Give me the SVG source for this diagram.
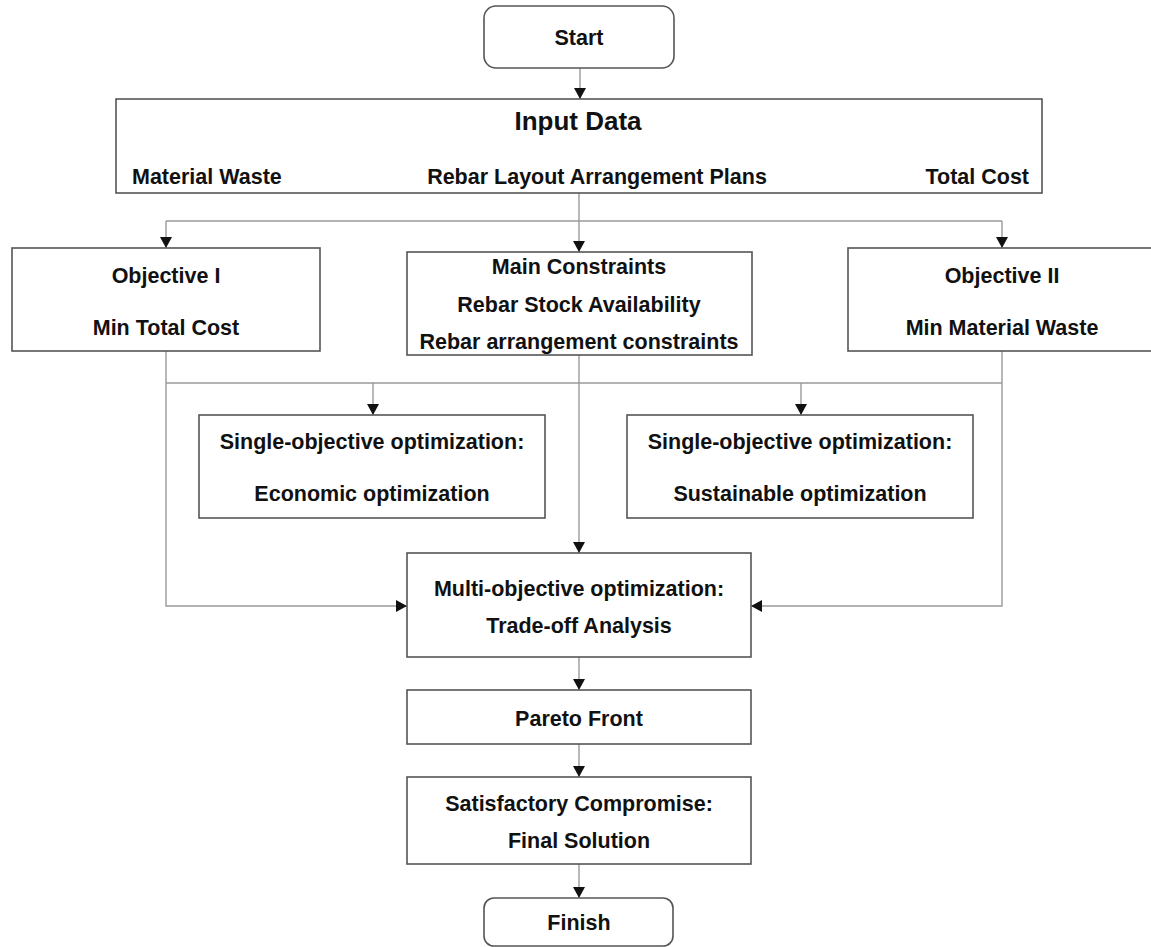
<svg xmlns="http://www.w3.org/2000/svg" width="1151" height="947" viewBox="0 0 1151 947">
  <style>
    .box { fill: #ffffff; stroke: #555555; stroke-width: 1.6; }
    .conn { fill: none; stroke: #9a9a9a; stroke-width: 1.4; }
    .t { font-family: "Liberation Sans", Arial, sans-serif; font-weight: bold; font-size: 21.5px; fill: #111111; text-anchor: middle; }
    .big { font-size: 26px; }
  </style>
  <defs>
    <marker id="arrow" markerUnits="userSpaceOnUse" markerWidth="13" markerHeight="13" refX="11" refY="6" orient="auto">
      <path d="M0,0 L11,6 L0,12 Z" fill="#111111"/>
    </marker>
  </defs>

  <rect width="1151" height="947" fill="#ffffff"/>

  <!-- connectors -->
  <g id="connectors">
    <path class="conn" d="M580,68 V99" marker-end="url(#arrow)"/>
    <path class="conn" d="M579,193 V252" marker-end="url(#arrow)"/>
    <path class="conn" d="M166,221 H1002"/>
    <path class="conn" d="M166,221 V248" marker-end="url(#arrow)"/>
    <path class="conn" d="M1002,221 V248" marker-end="url(#arrow)"/>
    <path class="conn" d="M579,355 V553" marker-end="url(#arrow)"/>
    <path class="conn" d="M166,383 H1002"/>
    <path class="conn" d="M373,383 V415" marker-end="url(#arrow)"/>
    <path class="conn" d="M801,383 V415" marker-end="url(#arrow)"/>
    <path class="conn" d="M166,351 V606 H407" marker-end="url(#arrow)"/>
    <path class="conn" d="M1002,351 V606 H751" marker-end="url(#arrow)"/>
    <path class="conn" d="M579,657 V690" marker-end="url(#arrow)"/>
    <path class="conn" d="M579,744 V777" marker-end="url(#arrow)"/>
    <path class="conn" d="M579,864 V898" marker-end="url(#arrow)"/>
  </g>

  <g id="start">
    <rect class="box" x="484" y="6" width="190" height="62" rx="12"/>
    <text class="t" x="579" y="45">Start</text>
  </g>

  <g id="input-data">
    <rect class="box" x="116" y="99" width="926" height="94"/>
    <text class="t big" x="578" y="130">Input Data</text>
    <text class="t" x="132" y="184" style="text-anchor:start">Material Waste</text>
    <text class="t" x="597" y="184">Rebar Layout Arrangement Plans</text>
    <text class="t" x="1029" y="184" style="text-anchor:end">Total Cost</text>
  </g>

  <g id="objective-1">
    <rect class="box" x="12" y="248" width="308" height="103"/>
    <text class="t" x="166" y="283">Objective I</text>
    <text class="t" x="166" y="335">Min Total Cost</text>
  </g>

  <g id="constraints">
    <rect class="box" x="407" y="252" width="345" height="103"/>
    <text class="t" x="579" y="274">Main Constraints</text>
    <text class="t" x="579" y="312">Rebar Stock Availability</text>
    <text class="t" x="579" y="349">Rebar arrangement constraints</text>
  </g>

  <g id="objective-2">
    <rect class="box" x="848" y="248" width="308" height="103"/>
    <text class="t" x="1002" y="283">Objective II</text>
    <text class="t" x="1002" y="335">Min Material Waste</text>
  </g>

  <g id="single-economic">
    <rect class="box" x="199" y="415" width="346" height="103"/>
    <text class="t" x="372" y="449">Single-objective optimization:</text>
    <text class="t" x="372" y="501">Economic optimization</text>
  </g>

  <g id="single-sustainable">
    <rect class="box" x="627" y="415" width="346" height="103"/>
    <text class="t" x="800" y="449">Single-objective optimization:</text>
    <text class="t" x="800" y="501">Sustainable optimization</text>
  </g>

  <g id="multi-objective">
    <rect class="box" x="407" y="553" width="344" height="104"/>
    <text class="t" x="579" y="596">Multi-objective optimization:</text>
    <text class="t" x="579" y="633">Trade-off Analysis</text>
  </g>

  <g id="pareto-front">
    <rect class="box" x="407" y="690" width="344" height="54"/>
    <text class="t" x="579" y="726">Pareto Front</text>
  </g>

  <g id="compromise">
    <rect class="box" x="407" y="777" width="344" height="87"/>
    <text class="t" x="579" y="811">Satisfactory Compromise:</text>
    <text class="t" x="579" y="848">Final Solution</text>
  </g>

  <g id="finish">
    <rect class="box" x="484" y="898" width="189" height="48" rx="10"/>
    <text class="t" x="579" y="930">Finish</text>
  </g>
</svg>
